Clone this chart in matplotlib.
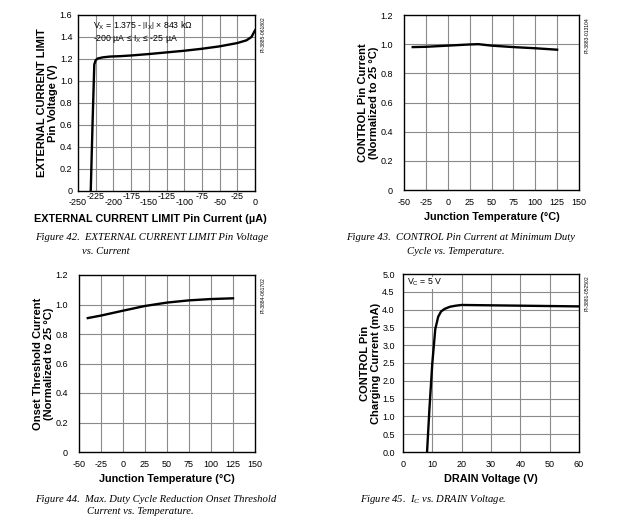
import matplotlib
matplotlib.use("Agg")
import matplotlib.pyplot as plt

plt.rcParams["font.family"] = ["Liberation Sans", "DejaVu Sans"]
plt.rcParams["axes.unicode_minus"] = False
plt.rcParams["mathtext.fontset"] = "custom"
plt.rcParams["mathtext.rm"] = "Liberation Sans"
plt.rcParams["mathtext.it"] = "Liberation Serif:italic"

# Figure 42: EXTERNAL CURRENT LIMIT pin voltage vs current
ix_current = [-232, -229.5, -227, -225, -222, -215, -205, -190, -175, -150, -125, -100, -75, -50, -25, -12, -5, 0]
ix_voltage = [0.0, 0.6, 1.15, 1.19, 1.205, 1.215, 1.222, 1.226, 1.232, 1.245, 1.26, 1.275, 1.293, 1.315, 1.345, 1.37, 1.40, 1.46]

# Figure 43: CONTROL pin current (normalized) vs temperature
t43 = [-40, -25, 0, 25, 35, 50, 75, 100, 125]
ic43 = [0.98, 0.982, 0.99, 0.998, 1.0, 0.99, 0.98, 0.972, 0.962]

# Figure 44: onset threshold current (normalized) vs temperature
t44 = [-40, -25, 0, 25, 50, 75, 100, 125]
ion44 = [0.908, 0.925, 0.958, 0.99, 1.013, 1.028, 1.037, 1.042]

# Figure 45: CONTROL pin charging current vs DRAIN voltage
vd45 = [8.2, 9.0, 10.0, 11.0, 12.0, 13.0, 14.2, 16.0, 18.0, 20.0, 30.0, 40.0, 50.0, 60.0]
ic45 = [0.0, 1.2, 2.5, 3.45, 3.8, 3.95, 4.02, 4.08, 4.11, 4.13, 4.12, 4.11, 4.10, 4.09]

fig = plt.figure(figsize=(6.2, 5.25), dpi=100)

tick_fs = 6.5
lab_fs = 7.8
ylab_fs = 8.0
cap_fs = 7.7
grid_kw = dict(color="#8a8a8a", linewidth=0.8)


def style(ax, xlim, ylim, xgrid, ygrid, xpad, ypad):
    ax.set_xlim(*xlim)
    ax.set_ylim(*ylim)
    for g in xgrid:
        ax.axvline(g, **grid_kw, zorder=1)
    for g in ygrid:
        ax.axhline(g, **grid_kw, zorder=1)
    ax.tick_params(which="both", length=0, labelsize=tick_fs)
    ax.tick_params(axis="x", pad=xpad)
    ax.tick_params(axis="y", pad=ypad)
    for s in ax.spines.values():
        s.set_linewidth(1.0)
        s.set_zorder(4)


def caption(x, y, lines, indent):
    fig.text(x, y, lines[0], fontsize=cap_fs, family="Liberation Serif", style="italic", va="center")
    for k, line in enumerate(lines[1:]):
        fig.text(indent, y - (k + 1) * 13 / 525, line, fontsize=cap_fs,
                 family="Liberation Serif", style="italic", va="center")


def part_id(ax, text):
    ax.text(1.045, 0.99, text, transform=ax.transAxes, rotation=90, fontsize=3.6,
            va="top", ha="center")


# ---- panel 1
ax1 = fig.add_axes([78 / 620, 1 - 191 / 525, 177 / 620, 176 / 525])
style(ax1, (-250, 0), (0, 1.6), range(-225, 0, 25), [0.2, 0.4, 0.6, 0.8, 1.0, 1.2, 1.4], 5, 4)
ax1.plot(ix_current, ix_voltage, color="black", lw=1.7, zorder=3)
ax1.set_xticks([-250, -200, -150, -100, -50, 0])
ax1.set_xticks([-225, -175, -125, -75, -25], minor=True)
ax1.set_xticklabels(["-250", "-200", "-150", "-100", "-50", "0"])
ax1.set_xticklabels(["-225", "-175", "-125", "-75", "-25"], minor=True)
ax1.tick_params(axis="x", which="minor", pad=1)
ax1.set_yticks([0, 0.2, 0.4, 0.6, 0.8, 1.0, 1.2, 1.4, 1.6])
ax1.set_yticklabels(["0", "0.2", "0.4", "0.6", "0.8", "1.0", "1.2", "1.4", "1.6"])
ax1.set_xlabel("EXTERNAL CURRENT LIMIT Pin Current (µA)", fontsize=lab_fs, fontweight="bold", labelpad=4)
ax1.xaxis.set_label_coords(0.41, -0.13)
ax1.set_ylabel("EXTERNAL CURRENT LIMIT\nPin Voltage (V)", fontsize=ylab_fs, fontweight="bold",
               linespacing=1.05, labelpad=1.5)
ax1.text(0.085, 0.94, r"V$_\mathrm{X}$ = 1.375 - $\left|\mathrm{I}_\mathrm{X}\right|$ × 843 kΩ",
         transform=ax1.transAxes, fontsize=6.3, va="center")
ax1.text(0.085, 0.865, r"-200 µA ≤ I$_\mathrm{X}$ ≤ -25 µA", transform=ax1.transAxes, fontsize=6.3,
         va="center")
part_id(ax1, "PI-3885-061802")

# ---- panel 2
ax2 = fig.add_axes([404 / 620, 1 - 190 / 525, 175 / 620, 175 / 525])
style(ax2, (-50, 150), (0, 1.2), range(-25, 150, 25), [0.2, 0.4, 0.6, 0.8, 1.0], 5.5, 8)
ax2.plot(t43, ic43, color="black", lw=1.7, zorder=3)
ax2.set_xticks(range(-50, 151, 25))
ax2.set_yticks([0, 0.2, 0.4, 0.6, 0.8, 1.0, 1.2])
ax2.set_yticklabels(["0", "0.2", "0.4", "0.6", "0.8", "1.0", "1.2"])
ax2.set_xlabel("Junction Temperature (°C)", fontsize=lab_fs, fontweight="bold", labelpad=4)
ax2.set_ylabel("CONTROL Pin Current\n(Normalized to 25 °C)", fontsize=ylab_fs, fontweight="bold",
               linespacing=1.05, labelpad=1)
part_id(ax2, "PI-3883-013104")

# ---- panel 3
ax3 = fig.add_axes([79 / 620, 1 - 452 / 525, 176 / 620, 177 / 525])
style(ax3, (-50, 150), (0, 1.2), range(-25, 150, 25), [0.2, 0.4, 0.6, 0.8, 1.0], 5.5, 8)
ax3.plot(t44, ion44, color="black", lw=1.7, zorder=3)
ax3.set_xticks(range(-50, 151, 25))
ax3.set_yticks([0, 0.2, 0.4, 0.6, 0.8, 1.0, 1.2])
ax3.set_yticklabels(["0", "0.2", "0.4", "0.6", "0.8", "1.0", "1.2"])
ax3.set_xlabel("Junction Temperature (°C)", fontsize=lab_fs, fontweight="bold", labelpad=4)
ax3.set_ylabel("Onset Threshold Current\n(Normalized to 25 °C)", fontsize=ylab_fs, fontweight="bold",
               linespacing=1.05, labelpad=1)
part_id(ax3, "PI-3884-061702")

# ---- panel 4
ax4 = fig.add_axes([403 / 620, 1 - 452 / 525, 176 / 620, 178 / 525])
style(ax4, (0, 60), (0, 5), range(10, 60, 10), [0.5, 1, 1.5, 2, 2.5, 3, 3.5, 4, 4.5], 5.5, 6)
ax4.plot(vd45, ic45, color="black", lw=1.7, zorder=3)
ax4.set_xticks(range(0, 61, 10))
ax4.set_yticks([0, 0.5, 1, 1.5, 2, 2.5, 3, 3.5, 4, 4.5, 5])
ax4.set_yticklabels(["0.0", "0.5", "1.0", "1.5", "2.0", "2.5", "3.0", "3.5", "4.0", "4.5", "5.0"])
ax4.set_xlabel("DRAIN Voltage (V)", fontsize=lab_fs, fontweight="bold", labelpad=4)
ax4.set_ylabel("CONTROL Pin\nCharging Current (mA)", fontsize=ylab_fs, fontweight="bold",
               linespacing=1.05, labelpad=1)
ax4.text(0.025, 0.95, r"V$_\mathrm{C}$ = 5 V", transform=ax4.transAxes, fontsize=6.3, va="center",
         bbox=dict(facecolor="white", edgecolor="none", pad=0.5))
part_id(ax4, "PI-3881-052502")

# ---- captions
caption(35 / 620, 1 - 238 / 525, ["Figure 42.  EXTERNAL CURRENT LIMIT Pin Voltage", "vs. Current"], 82 / 620)
caption(346 / 620, 1 - 238 / 525, ["Figure 43.  CONTROL Pin Current at Minimum Duty",
                                   "Cycle vs. Temperature."], 407 / 620)
caption(35 / 620, 1 - 499 / 525, ["Figure 44.  Max. Duty Cycle Reduction Onset Threshold",
                                  "Current vs. Temperature."], 87 / 620)
fig.text(360 / 620, 1 - 499 / 525, r"Figure 45.  $I_C$ vs. DRAIN Voltage.", fontsize=cap_fs,
         family="Liberation Serif", style="italic", va="center")

fig.savefig("out.png", dpi=100, facecolor="white")
